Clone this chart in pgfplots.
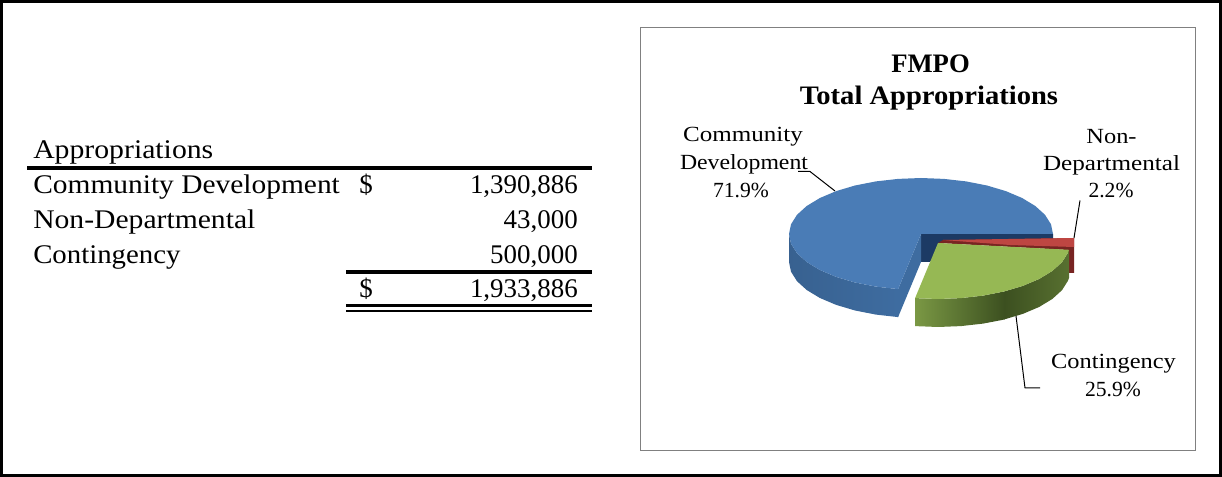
\documentclass[border=0pt]{standalone}
\usepackage{fontspec}
\setmainfont{Liberation Serif}
\usepackage{pgfplots}
\pgfplotsset{compat=1.18}

\definecolor{bluetop}{RGB}{74,124,182}
\definecolor{bluecut}{RGB}{62,108,160}
\definecolor{navy}{RGB}{28,58,100}
\definecolor{greentop}{RGB}{150,184,84}
\definecolor{greenlight}{RGB}{122,152,68}
\definecolor{greendark}{RGB}{60,80,32}
\definecolor{greenend}{RGB}{88,112,48}
\definecolor{redtop}{RGB}{190,70,66}
\definecolor{reddark}{RGB}{120,36,34}
\definecolor{framegray}{RGB}{128,128,128}

\newcommand{\tabfont}{\fontsize{20.2}{24}\selectfont}
\newcommand{\piefont}{\fontsize{16.2}{20}\selectfont}
\newcommand{\titlefont}{\fontsize{20}{24}\selectfont\bfseries}
% horizontal stretch, the reference face is wider than this one
\newcommand{\W}[2]{\scalebox{#1}[1]{#2}}

\begin{document}
\begin{tikzpicture}
\path[use as bounding box] (0,0) rectangle (916.5pt,357.75pt);
\begin{axis}[
  at={(0,0)}, anchor=south west,
  width=916.5pt, height=357.75pt, scale only axis,
  xmin=0, xmax=1222, ymin=0, ymax=477, y dir=reverse,
  hide axis, clip=false,
]

% frames
\addplot[black, line width=2.25pt] coordinates {(1.5,1.5) (1220.5,1.5) (1220.5,475.5) (1.5,475.5)} --cycle;
\addplot[framegray, line width=0.75pt] coordinates {(640.5,27.5) (1195.5,27.5) (1195.5,450.5) (640.5,450.5)} --cycle;

% table rules
\addplot[black, line width=3pt] coordinates {(27,168) (592,168)};
\addplot[black, line width=2.4pt] coordinates {(346,272) (592,272)};
\addplot[black, line width=2.2pt] coordinates {(346,305.5) (592,305.5)};
\addplot[black, line width=2.2pt] coordinates {(346,311) (592,311)};

% table text
\node[anchor=base west, inner xsep=0pt] at (axis cs:33,158.3) {\tabfont\W{1.104}{Appropriations}};
\node[anchor=base west, inner xsep=0pt] at (axis cs:33,193.3) {\tabfont\W{1.093}{Community Development}};
\node[anchor=base west, inner xsep=0pt] at (axis cs:33,228.3) {\tabfont\W{1.10}{Non-Departmental}};
\node[anchor=base west, inner xsep=0pt] at (axis cs:33,263.3) {\tabfont\W{1.07}{Contingency}};
\node[anchor=base] at (axis cs:366,193.3) {\tabfont \$};
\node[anchor=base] at (axis cs:366,298) {\tabfont \$};
\node[anchor=base east, inner xsep=0pt] at (axis cs:578,193.3) {\tabfont 1,390,886};
\node[anchor=base east, inner xsep=0pt] at (axis cs:578,228.3) {\tabfont 43,000};
\node[anchor=base east, inner xsep=0pt] at (axis cs:578,263.3) {\tabfont 500,000};
\node[anchor=base east, inner xsep=0pt] at (axis cs:578,298) {\tabfont 1,933,886};

% chart title
\node[anchor=base] at (axis cs:930.5,72.3) {\titlefont FMPO};
\node[anchor=base] at (axis cs:929,105) {\titlefont\W{1.072}{Total Appropriations}};

% dark inner faces of the blue slice
\addplot[fill=navy, draw=none] coordinates {(921,234) (1053,234) (1053,241) (945,241) (930,262) (921,262)} --cycle;
\addplot[fill=bluecut, draw=none] coordinates {(921,234) (898.1,289.1) (898.1,317.1) (921,262)} --cycle;

% blue wall
\addplot[shade, left color=bluecut!90!black, middle color=bluecut!85!white, right color=bluecut, draw=none] coordinates {
  (789,234) (791,243.7) (797,253.2) (806.7,262) (819.9,270) (836.2,276.9) (855,282.5) (875.9,286.6) (898.1,289.1)
  (898.1,317.1) (875.9,314.6) (855,310.5) (836.2,304.9) (819.9,298) (806.7,290) (797,281.2) (791,271.7) (789,262)
} --cycle;

% blue top
\addplot[fill=bluetop, draw=none] coordinates {
  (1053,234) (1051,224.3) (1045,214.8) (1035.3,206) (1022.1,198) (1005.8,191.1) (987,185.5) (966.1,181.4) (943.9,178.9) (921,178)
  (898.1,178.9) (875.9,181.4) (855,185.5) (836.2,191.1) (819.9,198) (806.7,206) (797,214.8) (791,224.3) (789,234)
  (791,243.7) (797,253.2) (806.7,262) (819.9,270) (836.2,276.9) (855,282.5) (875.9,286.6) (898.1,289.1) (921,234)
} --cycle;

% red slice
\addplot[fill=reddark, draw=none] coordinates {(943,240) (1074,238) (1074,273) (1068,273) (1068,250) (938,243)} --cycle;
\addplot[fill=redtop, draw=none] coordinates {(943,240) (1074,238) (1074,247) (1010,245)} --cycle;

% green wall, left part then right part
\addplot[shade, left color=greenlight, right color=greendark, draw=none] coordinates {
  (915.1,298.1) (938,299) (960.9,298.1) (983.1,295.6) (1004,291.5)
  (1004.5,319.5) (983.1,323.6) (960.9,326.1) (938,327) (915.1,326.1)
} --cycle;
\addplot[shade, left color=greendark, right color=greenend, draw=none] coordinates {
  (1004,291.5) (1022.8,285.9) (1039.1,279) (1052.3,271) (1062,262.2) (1068,252.7) (1069,249.8)
  (1069,277.8) (1068,280.7) (1062,290.2) (1052.3,299) (1039.1,307) (1022.8,313.9) (1004,319.5)
} --cycle;

% green top
\addplot[fill=greentop, draw=none] coordinates {
  (938,243) (1069,249.8) (1068,252.7) (1062,262.2) (1052.3,271) (1039.1,279) (1022.8,285.9) (1004,291.5) (983.1,295.6) (960.9,298.1) (938,299) (915.1,298.1)
} --cycle;

% leader lines
\addplot[black, line width=0.75pt] coordinates {(798,171.5) (810,171.5) (835,191)};
\addplot[black, line width=0.75pt] coordinates {(1080,200.5) (1074,238)};
\addplot[black, line width=0.75pt] coordinates {(1016,316) (1025,388) (1040,388)};

% pie labels
\node[anchor=base] at (axis cs:743,142) {\piefont\W{1.16}{Community}};
\node[anchor=base] at (axis cs:744,170) {\piefont\W{1.10}{Development}};
\node[anchor=base] at (axis cs:741,198) {\piefont 71.9\%};
\node[anchor=base] at (axis cs:1111.5,143.3) {\piefont\W{1.13}{Non-}};
\node[anchor=base] at (axis cs:1111.5,170.5) {\piefont\W{1.165}{Departmental}};
\node[anchor=base] at (axis cs:1111,198) {\piefont 2.2\%};
\node[anchor=base] at (axis cs:1113.5,368.5) {\piefont\W{1.13}{Contingency}};
\node[anchor=base] at (axis cs:1113,396.5) {\piefont 25.9\%};

\end{axis}
\end{tikzpicture}
\end{document}
